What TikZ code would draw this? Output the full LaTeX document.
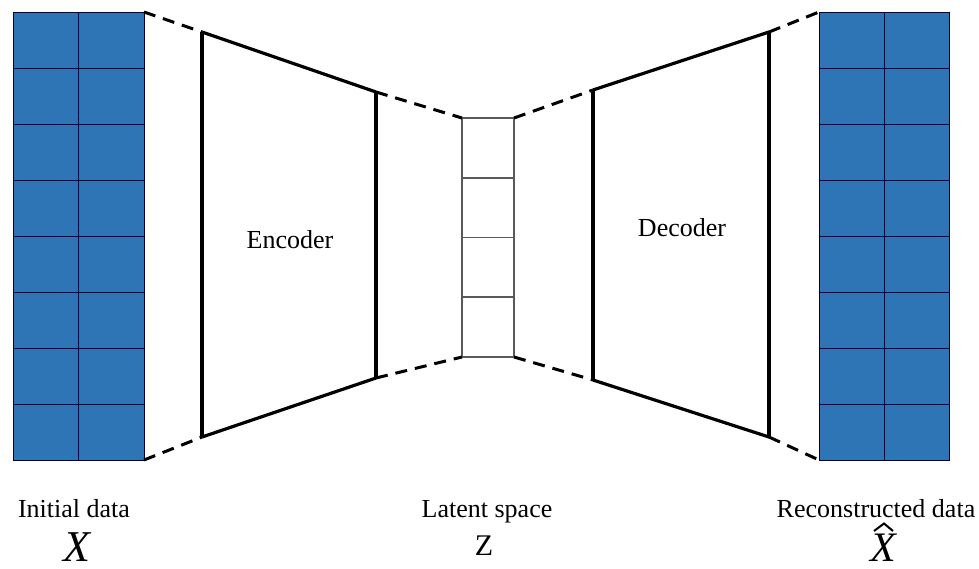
\documentclass[tikz,border=0pt]{standalone}
\usepackage{fontspec}
\setmainfont{Liberation Serif}
\begin{document}
\begin{tikzpicture}[x=0.5pt,y=-0.5pt,
  gridline/.style={draw=black!80!blue, line width=0.5pt},
  frame/.style={line width=1.6pt, black},
  link/.style={line width=1.5pt, black, dash pattern=on 6pt off 4pt},
  latentcell/.style={draw=black!65, line width=0.6pt},
  caption/.style={font=\fontsize{13}{15}\selectfont, anchor=base, inner sep=0pt},
  blocklabel/.style={font=\fontsize{13}{15}\selectfont, inner sep=0pt}]
\definecolor{cellblue}{RGB}{46,117,182}
\useasboundingbox (0,0) rectangle (979,568);

% input data grid
\fill[cellblue] (13,12) rectangle (144,460);
\foreach \y in {68,124,...,404} \draw[gridline] (13,\y) -- (144,\y);
\draw[gridline] (78.5,12) -- (78.5,460);
\draw[gridline] (13,12) rectangle (144,460);

% reconstructed data grid
\fill[cellblue] (819,12) rectangle (949,460);
\foreach \y in {68,124,...,404} \draw[gridline] (819,\y) -- (949,\y);
\draw[gridline] (884,12) -- (884,460);
\draw[gridline] (819,12) rectangle (949,460);

% corner points
\coordinate (in-tr) at (144,12);
\coordinate (in-br) at (144,460);
\coordinate (enc-tl) at (202,32);
\coordinate (enc-bl) at (202,437);
\coordinate (enc-tr) at (376,92);
\coordinate (enc-br) at (376,378);
\coordinate (lat-tl) at (462,118);
\coordinate (lat-tr) at (514,118);
\coordinate (lat-bl) at (462,357);
\coordinate (lat-br) at (514,357);
\coordinate (dec-tl) at (593,90);
\coordinate (dec-bl) at (593,380);
\coordinate (dec-tr) at (769,32);
\coordinate (dec-br) at (769,437);
\coordinate (out-tl) at (819,12);
\coordinate (out-bl) at (819,460);

% latent vector
\foreach \y in {178,237.5,297} \draw[latentcell] (462,\y) -- (514,\y);
\draw[latentcell] (lat-tl) rectangle (lat-br);

% encoder and decoder blocks
\draw[frame] (enc-tl) -- (enc-bl);
\draw[frame] (enc-tr) -- (enc-br);
\draw[frame] (enc-tl) -- (enc-tr);
\draw[frame] (enc-bl) -- (enc-br);
\draw[frame] (dec-tl) -- (dec-bl);
\draw[frame] (dec-tr) -- (dec-br);
\draw[frame] (dec-tl) -- (dec-tr);
\draw[frame] (dec-bl) -- (dec-br);

% dashed links
\draw[link] (in-tr) -- (enc-tl);
\draw[link] (in-br) -- (enc-bl);
\draw[link] (enc-tr) -- (lat-tl);
\draw[link] (enc-br) -- (lat-bl);
\draw[link] (lat-tr) -- (dec-tl);
\draw[link] (lat-br) -- (dec-bl);
\draw[link] (dec-tr) -- (out-tl);
\draw[link] (dec-br) -- (out-bl);

% labels
\node[blocklabel] (enc) at (290,240) {Encoder};
\node[blocklabel] (dec) at (682,228) {Decoder};
\node[caption] (cap-in) at (74,517) {Initial data};
\node[caption] (cap-lat) at (487,517) {Latent space};
\node[caption] (cap-out) at (876,517) {Reconstructed data};
\node[caption, font=\fontsize{22}{24}\selectfont\itshape] (sym-x) at (77,561) {X};
\node[caption, font=\fontsize{15}{17}\selectfont] (sym-z) at (484,555) {Z};
\node[caption, font=\fontsize{21}{23}\selectfont\itshape] (sym-xh) at (883,561) {X};
\draw[line width=1pt, line join=miter] (874,531) -- (884,523.5) -- (893,531);
\end{tikzpicture}
\end{document}
